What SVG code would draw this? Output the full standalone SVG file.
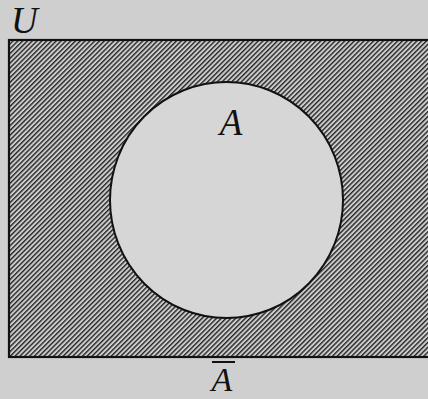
<svg xmlns="http://www.w3.org/2000/svg" width="428" height="399" viewBox="0 0 428 399">
  <style>
    .lbl { font-family: "Liberation Serif", "DejaVu Serif", serif; font-style: italic; font-size: 37px; fill: #111; }
  </style>
  <defs>
    <pattern id="hatch" patternUnits="userSpaceOnUse" width="3.4" height="3.4" patternTransform="rotate(45)">
      <rect x="0" y="0" width="3.4" height="3.4" fill="#cdcdcd"/>
      <rect x="0" y="0" width="1.4" height="3.4" fill="#262626"/>
    </pattern>
  </defs>
  <rect x="0" y="0" width="428" height="399" fill="#cfcfcf"/>
  <g id="universe">
    <rect x="9" y="40" width="440" height="317" fill="url(#hatch)" stroke="#111" stroke-width="2.2"/>
  </g>
  <g id="setA">
    <ellipse cx="226.5" cy="200" rx="116.5" ry="118" fill="#d6d6d6" stroke="#111" stroke-width="2"/>
  </g>
  <g id="labels">
    <text class="lbl" x="11" y="33">U</text>
    <text class="lbl" x="231" y="135" text-anchor="middle">A</text>
    <text class="lbl" x="222" y="391" text-anchor="middle" style="font-size:34px">A</text>
    <line x1="212" y1="362" x2="235" y2="362" stroke="#111" stroke-width="2"/>
  </g>
</svg>
